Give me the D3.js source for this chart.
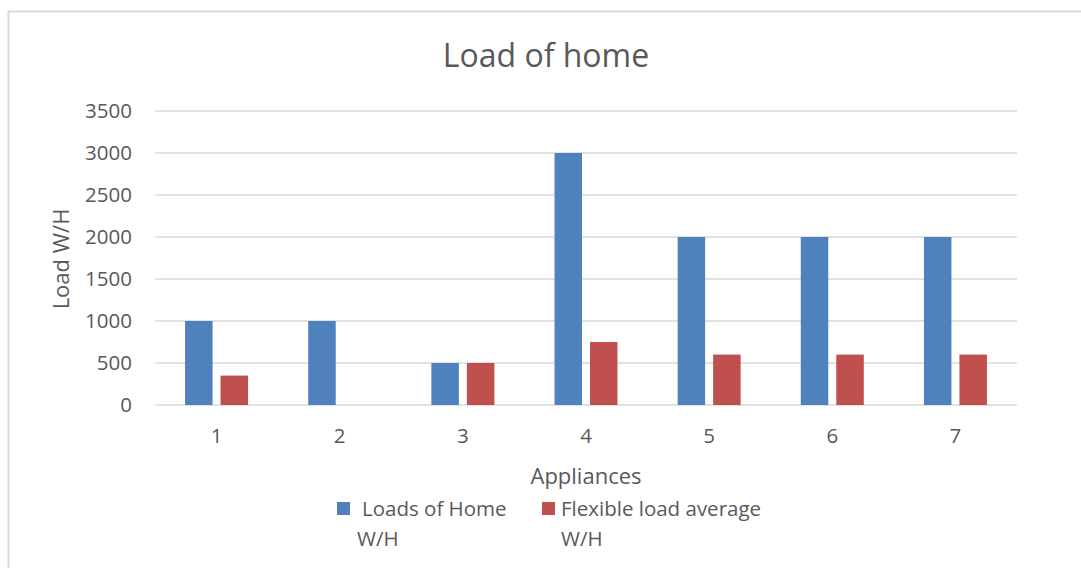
<!DOCTYPE html>
<html lang="en">
<head>
  <meta charset="UTF-8">
  <title>Load of home</title>
  <style>
    body { margin: 0; background: #fff; }
    svg text { font-family: "Open Sans", "Noto Sans", sans-serif; fill: #595959; }
  </style>
</head>
<body>
  <svg id="chart" width="1081" height="568"></svg>
  <script src="https://d3js.org/d3.v7.min.js"></script>
  <script>
    // data
    var categories = ["1", "2", "3", "4", "5", "6", "7"];
    var loadsOfHome = [1000, 1000, 500, 3000, 2000, 2000, 2000];
    var flexibleAvg = [350, 0, 500, 750, 600, 600, 600];
    var yTicks = [0, 500, 1000, 1500, 2000, 2500, 3000, 3500];
    var seriesNames = ["Loads of Home", "Flexible load average"];
    var colors = ["#4f81bd", "#c0504d"];

    var svg = d3.select("#chart");

    // chart area border
    svg.append("rect")
      .attr("x", 8.5).attr("y", 11.5)
      .attr("width", 1090).attr("height", 580)
      .attr("fill", "none")
      .attr("stroke", "#d9d9d9")
      .attr("stroke-width", 2);

    var plotL = 155, plotR = 1017, plotT = 111, plotB = 405;

    var x = d3.scaleBand().domain(categories).range([plotL, plotR]);
    var y = d3.scaleLinear().domain([0, 3500]).range([plotB, plotT]);

    // gridlines
    svg.append("g").selectAll("line")
      .data(yTicks)
      .enter().append("line")
      .attr("x1", plotL).attr("x2", plotR)
      .attr("y1", d => y(d)).attr("y2", d => y(d))
      .attr("stroke", "#d9d9d9")
      .attr("stroke-width", 1.5);

    // y tick labels
    svg.append("g").selectAll("text")
      .data(yTicks)
      .enter().append("text")
      .attr("x", plotL - 23)
      .attr("y", d => y(d))
      .attr("dy", "0.35em")
      .attr("text-anchor", "end")
      .attr("font-size", 20.5)
      .text(d => d);

    // x tick labels
    svg.append("g").selectAll("text")
      .data(categories)
      .enter().append("text")
      .attr("x", d => x(d) + x.bandwidth() / 2)
      .attr("y", 443)
      .attr("text-anchor", "middle")
      .attr("font-size", 20.5)
      .text(d => d);

    // bars
    var barW = 27.5, gap = 8;
    var series = [loadsOfHome, flexibleAvg];
    series.forEach(function(vals, s) {
      var rows = vals.map((v, i) => ({ cat: categories[i], v: v })).filter(d => d.v > 0);
      svg.append("g").selectAll("rect")
        .data(rows)
        .enter().append("rect")
        .attr("x", d => x(d.cat) + x.bandwidth() / 2 - barW - gap / 2 + s * (barW + gap))
        .attr("y", d => y(d.v))
        .attr("width", barW)
        .attr("height", d => plotB - y(d.v))
        .attr("fill", colors[s]);
    });

    // title
    svg.append("text")
      .attr("x", 546).attr("y", 67)
      .attr("text-anchor", "middle")
      .attr("font-size", 32)
      .text("Load of home");

    // axis titles
    svg.append("text")
      .attr("transform", "translate(69,259) rotate(-90)")
      .attr("text-anchor", "middle")
      .attr("font-size", 22)
      .text("Load W/H");

    svg.append("text")
      .attr("x", 586).attr("y", 484)
      .attr("text-anchor", "middle")
      .attr("font-size", 22)
      .text("Appliances");

    // legend
    var legendX = [337, 542];
    seriesNames.forEach(function(name, s) {
      var g = svg.append("g");
      g.append("rect")
        .attr("x", legendX[s]).attr("y", 502)
        .attr("width", 13).attr("height", 13)
        .attr("fill", colors[s]);
      g.append("text")
        .attr("font-size", 20.5)
        .attr("x", legendX[s] + (s === 0 ? 25 : 19))
        .attr("y", 516)
        .text(name);
      g.append("text")
        .attr("font-size", 20.5)
        .attr("x", legendX[s] + (s === 0 ? 20 : 19))
        .attr("y", 546)
        .text("W/H");
    });
  </script>
</body>
</html>
